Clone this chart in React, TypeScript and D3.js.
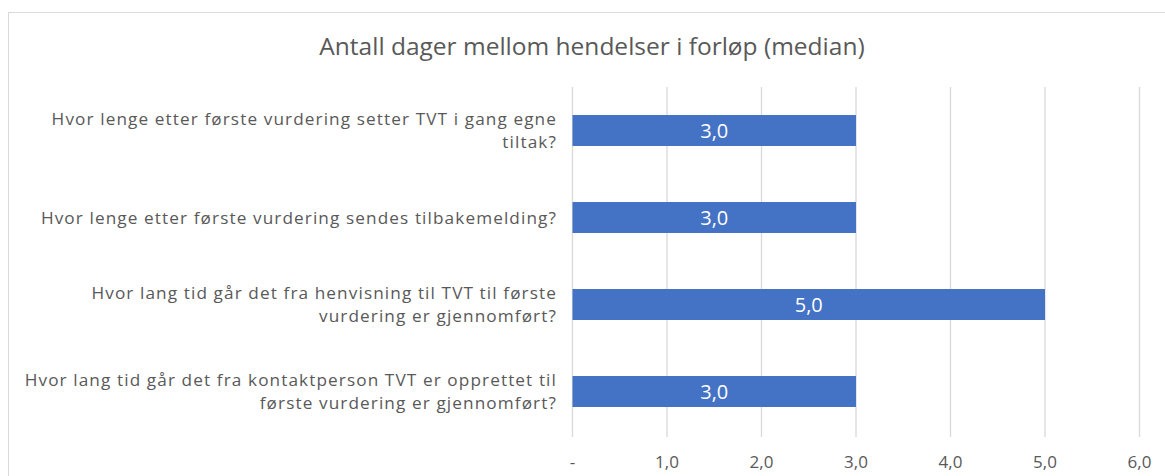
import React from 'react';
import * as d3 from 'd3';

const title = 'Antall dager mellom hendelser i forløp (median)';
const questions = [
  ['Hvor lenge etter første vurdering setter TVT i gang egne', 'tiltak?'],
  ['Hvor lenge etter første vurdering sendes tilbakemelding?'],
  ['Hvor lang tid går det fra henvisning til TVT til første', 'vurdering er gjennomført?'],
  ['Hvor lang tid går det fra kontaktperson TVT er opprettet til', 'første vurdering er gjennomført?'],
];
const medians = [3.0, 3.0, 5.0, 3.0];
const ticks = [0, 1, 2, 3, 4, 5, 6];

const fmt = (v: number) => (v === 0 ? '-' : v.toFixed(1).replace('.', ','));
const font = "'Open Sans', 'Noto Sans', sans-serif";

export default function App() {
  const width = 1165;
  const height = 476;
  const x = d3.scaleLinear().domain([0, 6]).range([572.5, 1139.5]);
  const y = d3.scaleBand<number>()
    .domain(d3.range(questions.length))
    .range([87, 435])
    .paddingInner(0.644)
    .paddingOuter(0.322);

  return (
    <svg width={width} height={height} style={{position: 'absolute', left: 0, top: 0, fontFamily: font}}>
      <rect x={0} y={0} width={width} height={height} fill="#fff" />
      <rect x={8.5} y={12.5} width={width + 20} height={height + 20} fill="none" stroke="#d9d9d9" />
      <text x={592} y={55} textAnchor="middle" fontSize={24.5} fill="#595959">{title}</text>
      {ticks.map(t => (
        <g key={t}>
          <line x1={x(t)} x2={x(t)} y1={87} y2={437} stroke="#d9d9d9" strokeWidth={1.3} />
          <text x={x(t)} y={468} textAnchor="middle" fontSize={17} fill="#595959">{fmt(t)}</text>
        </g>
      ))}
      {medians.map((v, i) => {
        const by = y(i)!;
        const bh = y.bandwidth();
        const lines = questions[i];
        const cy = by + bh / 2;
        return (
          <g key={i}>
            <rect x={x(0)} y={by} width={x(v) - x(0)} height={bh} fill="#4472c4" />
            <text x={(x(0) + x(v)) / 2} y={cy + 7} textAnchor="middle" fontSize={20} fill="#fff">{fmt(v)}</text>
            {lines.map((ln, j) => (
              <text key={j} x={557} y={cy + 6 + (j - (lines.length - 1) / 2) * 23.5} textAnchor="end"
                fontSize={17.2} letterSpacing={1.1} fill="#595959">{ln}</text>
            ))}
          </g>
        );
      })}
    </svg>
  );
}
